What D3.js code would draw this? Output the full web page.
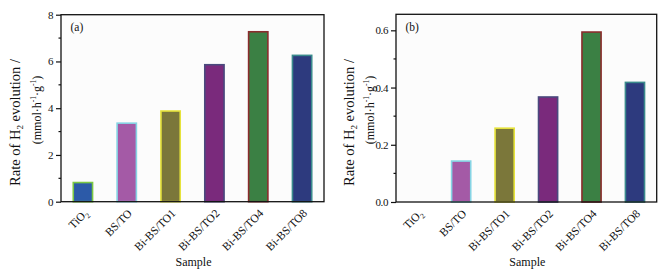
<!DOCTYPE html>
<html>
<head>
<meta charset="utf-8">
<script src="https://cdn.jsdelivr.net/npm/d3@7"></script>
<style>
  body { margin: 0; background: #fff; }
  svg text { font-family: "Liberation Serif", "Times New Roman", serif; fill: #111; }
</style>
</head>
<body>
<svg id="chart" width="665" height="278"></svg>
<script>
// --- Data ---
const samples = ["TiO2", "BS/TO", "Bi-BS/TO1", "Bi-BS/TO2", "Bi-BS/TO4", "Bi-BS/TO8"];
const rateA = [0.82, 3.36, 3.88, 5.86, 7.27, 6.26];
const rateB = [0, 0.143, 0.258, 0.367, 0.594, 0.418];
const ticksA = [0, 2, 4, 6, 8];
const ticksB = [0, 0.2, 0.4, 0.6];
const fills = ["#2c5aa8", "#a45aa6", "#7b773a", "#7a2a7c", "#3b8044", "#2d3a7e"];
const strokes = ["#7bc843", "#86d4e4", "#e6e33b", "#4a4a7e", "#8a2c2c", "#3a8a8c"];

const svg = d3.select("#chart");

function drawPanel(opts) {
    const { left, right, top, bottom, values, ymax, ticks, minor, fmt, tag, labelX1, labelX2, labelY1, labelY2 } = opts;

    const x = d3.scaleBand().domain(samples).range([left, right]).paddingInner(0.56).paddingOuter(0.28);
    const y = d3.scaleLinear().domain([0, ymax]).range([bottom, top]);

    const g = svg.append("g");

    // plot area background
    g.append("rect")
        .attr("x", left).attr("y", top)
        .attr("width", right - left).attr("height", bottom - top)
        .attr("fill", "#fcfcfc");

    // bars
    g.selectAll("rect.bar")
        .data(values.map((v, i) => ({ v, i })).filter(d => d.v > 0))
        .enter().append("rect")
        .attr("class", "bar")
        .attr("x", d => x(samples[d.i]))
        .attr("y", d => y(d.v))
        .attr("width", x.bandwidth())
        .attr("height", d => y(0) - y(d.v))
        .attr("fill", d => fills[d.i])
        .attr("stroke", d => strokes[d.i])
        .attr("stroke-width", 1.6);

    // y axis (major)
    const yAxis = d3.axisLeft(y).tickValues(ticks).tickFormat(fmt).tickSize(5).tickPadding(3);
    const ya = g.append("g").attr("transform", `translate(${left},0)`).call(yAxis);
    ya.select(".domain").remove();
    ya.selectAll("line").attr("stroke", "#111").attr("stroke-width", 1.2);
    ya.selectAll("text").attr("font-size", "11px").attr("letter-spacing", "-0.4px")
        .style("font-family", "Liberation Serif");

    // minor ticks
    g.selectAll("line.minor")
        .data(minor)
        .enter().append("line")
        .attr("x1", left - 2.5).attr("x2", left)
        .attr("y1", d => y(d)).attr("y2", d => y(d))
        .attr("stroke", "#111").attr("stroke-width", 1.2);

    // x tick labels
    const xa = g.append("g").attr("transform", `translate(0,${bottom})`)
        .call(d3.axisBottom(x).tickSize(0).tickFormat(""));
    xa.select(".domain").remove();
    samples.forEach((s, i) => {
        const cx = x(s) + x.bandwidth() / 2;
        const t = g.append("text")
            .attr("transform", `translate(${cx + 3},${bottom + 9.5}) rotate(-45)`)
            .attr("text-anchor", "end")
            .attr("dy", "0.35em")
            .attr("font-size", "11.5px");
        if (s === "TiO2") {
            t.append("tspan").text("TiO");
            t.append("tspan").attr("font-size", "7.5px").attr("dy", "3").text("2");
        } else {
            t.text(s);
        }
    });

    // frame
    g.append("rect")
        .attr("x", left).attr("y", top)
        .attr("width", right - left).attr("height", bottom - top)
        .attr("fill", "none").attr("stroke", "#111").attr("stroke-width", 1.3);

    // panel tag
    g.append("text").attr("x", left + 9.5).attr("y", top + 16.5)
        .attr("font-size", "11.5px").text(tag);

    // x title
    g.append("text").attr("x", (left + right) / 2 + 1).attr("y", 266)
        .attr("text-anchor", "middle").attr("font-size", "12px").text("Sample");

    // y title, two lines
    const l1 = g.append("text")
        .attr("transform", `translate(${labelX1},${labelY1}) rotate(-90)`)
        .attr("text-anchor", "middle").attr("font-size", "14.5px");
    l1.append("tspan").text("Rate of H");
    l1.append("tspan").attr("font-size", "9px").attr("dy", "3").text("2");
    l1.append("tspan").attr("dy", "-3").text(" evolution /");

    const l2 = g.append("text")
        .attr("transform", `translate(${labelX2},${labelY2}) rotate(-90)`)
        .attr("text-anchor", "middle").attr("font-size", "12px");
    l2.append("tspan").text("(mmol·h");
    l2.append("tspan").attr("font-size", "7.5px").attr("dy", "-5").text("-1");
    l2.append("tspan").attr("dy", "5").text("·g");
    l2.append("tspan").attr("font-size", "7.5px").attr("dy", "-5").text("-1");
    l2.append("tspan").attr("dy", "5").text(")");
}

drawPanel({
    left: 61, right: 324, top: 14.7, bottom: 201.7,
    values: rateA, ymax: 8, ticks: ticksA, minor: [1, 3, 5, 7],
    fmt: d3.format("d"), tag: "(a)",
    labelX1: 20, labelY1: 122.5, labelX2: 41, labelY2: 110
});

drawPanel({
    left: 396, right: 656.7, top: 14.3, bottom: 202,
    values: rateB, ymax: 0.656, ticks: ticksB, minor: [0.1, 0.3, 0.5],
    fmt: d3.format(".1f"), tag: "(b)",
    labelX1: 354, labelY1: 122.5, labelX2: 374, labelY2: 110
});
</script>
</body>
</html>
